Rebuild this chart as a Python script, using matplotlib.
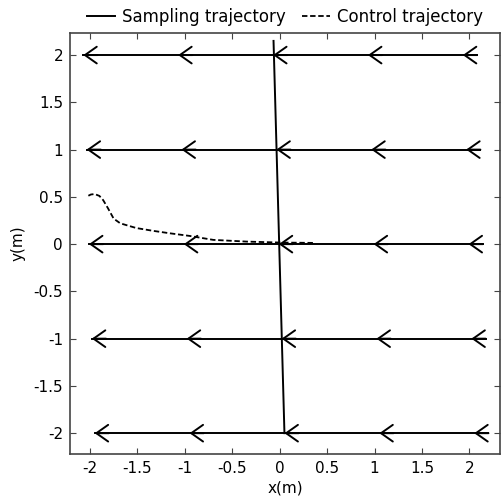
import matplotlib

matplotlib.use("Agg")
import matplotlib.pyplot as plt
from matplotlib.ticker import FuncFormatter

plt.rcParams["axes.unicode_minus"] = False

# sampling rows: y level and the x shift of each row
row_y = [2, 1, 0, -1, -2]
row_shift = [-0.07, -0.035, -0.01, 0.02, 0.05]
arrow_x = [-2, -1, 0, 1, 2]
tail_len = 0.15

# near-vertical sampling line through the starts
vert_x = [-0.065, 0.05]
vert_y = [2.15, -2.0]

# control trajectory (dashed)
ctrl_x = [0.35, 0.0, -0.35, -0.70, -0.95, -1.16, -1.33, -1.51, -1.68, -1.75,
          -1.81, -1.86, -1.90, -1.95, -1.99, -2.02]
ctrl_y = [0.013, 0.017, 0.027, 0.045, 0.087, 0.115, 0.14, 0.17, 0.22, 0.27,
          0.38, 0.465, 0.51, 0.53, 0.525, 0.51]

xticks = [-2, -1.5, -1, -0.5, 0, 0.5, 1, 1.5, 2]
yticks = [-2, -1.5, -1, -0.5, 0, 0.5, 1, 1.5, 2]


def main() -> None:
    fig = plt.figure(figsize=(5.01, 4.99), dpi=100)
    ax = fig.add_axes([0.1397, 0.0902, 0.858, 0.843])

    for y, s in zip(row_y, row_shift):
        xs = [x + s for x in arrow_x]
        ax.plot([xs[0], xs[-1] + tail_len], [y, y], color="black", lw=1.4)
        for x in xs:
            ax.annotate(
                "",
                xy=(x, y),
                xytext=(x + tail_len, y),
                arrowprops=dict(
                    arrowstyle="->,head_length=0.85,head_width=0.6",
                    color="black",
                    lw=1.4,
                    shrinkA=0,
                    shrinkB=0,
                ),
            )

    ax.plot(vert_x, vert_y, color="black", lw=1.4, label="Sampling trajectory")
    ax.plot(ctrl_x, ctrl_y, color="black", lw=1.3, ls=(0, (3, 1.5)),
            label="Control trajectory")

    ax.set_xlim(-2.21, 2.32)
    ax.set_ylim(-2.22, 2.23)
    ax.set_xticks(xticks)
    ax.set_yticks(yticks)
    fmt = FuncFormatter(lambda v, p: f"{v:g}")
    ax.xaxis.set_major_formatter(fmt)
    ax.yaxis.set_major_formatter(fmt)
    ax.tick_params(direction="in", top=True, right=True, length=4.5,
                   labelsize=11, color="#444444", pad=5)
    for sp in ax.spines.values():
        sp.set_color("#444444")
        sp.set_linewidth(1.2)

    ax.set_xlabel("x(m)", fontsize=11, labelpad=3)
    ax.set_ylabel("y(m)", fontsize=11, labelpad=6)

    ax.legend(
        loc="lower center",
        bbox_to_anchor=(0.5, 1.012),
        ncol=2,
        frameon=False,
        fontsize=12,
        handlelength=1.7,
        handletextpad=0.4,
        columnspacing=1.0,
        borderaxespad=0.0,
        borderpad=0.15,
    )

    plt.savefig("out.png", dpi=100)


if __name__ == "__main__":
    main()
